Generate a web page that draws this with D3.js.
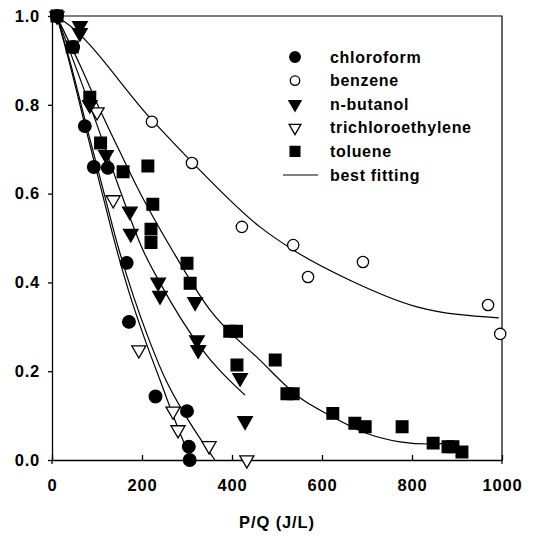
<!DOCTYPE html>
<html>
<head>
<meta charset="utf-8">
<script src="https://cdn.jsdelivr.net/npm/d3@7"></script>
<style>
  body { margin: 0; background: #fff; }
  svg text { font-family: "Liberation Sans", Arial, sans-serif; font-weight: bold; fill: #000; }
</style>
</head>
<body>
<div id="chart"></div>
<script>
// measured points, [P/Q, fraction remaining]
const chloroform = [[11, 1.0], [47, 0.93], [73, 0.752], [93, 0.66], [124, 0.658], [166, 0.444],
  [171, 0.311], [230, 0.143], [300, 0.11], [304, 0.03], [306, 0.0]];
const benzene = [[11, 1.0], [222, 0.762], [311, 0.669], [422, 0.525], [536, 0.484], [569, 0.412],
  [691, 0.446], [969, 0.349], [996, 0.284]];
const nButanol = [[62, 0.978], [62, 0.962], [84, 0.8], [120, 0.687], [173, 0.56], [175, 0.51],
  [236, 0.4], [240, 0.37], [318, 0.356], [322, 0.27], [325, 0.248], [418, 0.185], [429, 0.088]];
const trichloroethylene = [[11, 1.0], [100, 0.784], [136, 0.586], [193, 0.248], [269, 0.11],
  [280, 0.068], [349, 0.032], [433, 0.0]];
const toluene = [[11, 1.0], [45, 0.93], [84, 0.817], [108, 0.714], [158, 0.649], [213, 0.662],
  [224, 0.576], [220, 0.52], [220, 0.49], [300, 0.443], [307, 0.398], [395, 0.29], [410, 0.29],
  [411, 0.214], [496, 0.225], [522, 0.149], [536, 0.149], [624, 0.105], [673, 0.083], [696, 0.075],
  [778, 0.075], [847, 0.038], [880, 0.03], [891, 0.03], [911, 0.018]];

// best fitting curves
const fitChloroform = [[11, 0.998], [40, 0.89], [73, 0.755], [107, 0.619], [144, 0.473], [173, 0.372],
  [207, 0.27], [240, 0.18], [273, 0.09], [307, 0.005]];
const fitTrichloroethylene = [[11, 0.998], [42, 0.89], [76, 0.755], [111, 0.619], [149, 0.473],
  [180, 0.372], [216, 0.27], [253, 0.18], [296, 0.101], [336, 0.038], [362, 0.0]];
const fitButanol = [[11, 0.998], [51, 0.89], [96, 0.766], [151, 0.608], [202, 0.473], [240, 0.399],
  [329, 0.255], [429, 0.146]];
const fitToluene = [[11, 0.998], [62, 0.89], [107, 0.788], [151, 0.694], [189, 0.615], [267, 0.473],
  [351, 0.338], [462, 0.225], [551, 0.14], [624, 0.097], [691, 0.063], [773, 0.041], [840, 0.036],
  [902, 0.041]];
const fitBenzene = [[8, 1.0], [24, 0.99], [222, 0.766], [311, 0.671], [462, 0.525], [536, 0.473],
  [662, 0.405], [811, 0.345], [993, 0.32]];

const xTicks = [0, 200, 400, 600, 800, 1000];
const yTicks = [0.0, 0.2, 0.4, 0.6, 0.8, 1.0];
const legendNames = ['chloroform', 'benzene', 'n-butanol', 'trichloroethylene', 'toluene', 'best fitting'];

let margin = {top: 16, right: 32, bottom: 78, left: 52};
var totalW = 534;
var totalH = 538;
var W = totalW - margin.left - margin.right;
var H = totalH - margin.top - margin.bottom;

let svg = d3.select('#chart').append('svg')
  .attr('width', totalW)
  .attr('height', totalH)
  .append('g')
    .attr('transform', 'translate(' + margin.left + ' ' + margin.top + ')');

let xscale = d3.scaleLinear().domain([0, 1000]).range([0, W]);
let yscale = d3.scaleLinear().domain([0, 1]).range([H, 0]);

// frame (top and right)
svg.append('path')
  .attr('d', 'M0,0H' + W + 'V' + (H + 4))
  .attr('fill', 'none')
  .attr('stroke', '#000')
  .attr('stroke-width', 1.2);

let yaxis = svg.append('g')
  .call(d3.axisLeft(yscale).tickValues(yTicks).tickFormat(d3.format('.1f'))
    .tickSize(4).tickSizeOuter(0).tickPadding(8));
let xaxis = svg.append('g')
  .attr('transform', 'translate(0 ' + H + ')')
  .call(d3.axisBottom(xscale).tickValues(xTicks).tickFormat(d3.format('d'))
    .tickSize(-5).tickSizeOuter(0).tickPadding(19));
// left axis runs a little below zero, as in the print
svg.append('line')
  .attr('x1', 0).attr('x2', 0)
  .attr('y1', H).attr('y2', H + 4)
  .attr('stroke', '#000')
  .attr('stroke-width', 1.3);
svg.selectAll('.domain, .tick line').attr('stroke-width', 1.3);
svg.selectAll('.tick text')
  .attr('font-size', '16.5px')
  .attr('font-family', null)
  .style('letter-spacing', '0.8px');

svg.append('text')
  .text('P/Q (J/L)')
  .attr('font-size', '16.5px')
  .style('letter-spacing', '0.9px')
  .attr('text-anchor', 'middle')
  .attr('x', W / 2)
  .attr('y', H + 68);

// fitted curves
let line = d3.line()
  .x(d => xscale(d[0]))
  .y(d => yscale(d[1]))
  .curve(d3.curveMonotoneX);
for (let f of [fitChloroform, fitTrichloroethylene, fitButanol, fitToluene, fitBenzene]) {
  svg.append('path')
    .attr('d', line(f))
    .attr('fill', 'none')
    .attr('stroke', '#000')
    .attr('stroke-width', 1.2);
}

// marker styles
let styles = [
  {data: chloroform, type: d3.symbolCircle, size: 125, fill: '#000', rot: 0},
  {data: benzene, type: d3.symbolCircle, size: 100, fill: '#fff', rot: 0},
  {data: nButanol, type: d3.symbolTriangle, size: 92, fill: '#000', rot: 180},
  {data: trichloroethylene, type: d3.symbolTriangle, size: 86, fill: '#fff', rot: 180},
  {data: toluene, type: d3.symbolSquare, size: 136, fill: '#000', rot: 0}
];

function drawMarks(g, s, pts) {
  g.selectAll(null)
    .data(pts)
    .enter().append('path')
      .attr('d', d3.symbol().type(s.type).size(s.size))
      .attr('transform', d => 'translate(' + d[0] + ' ' + d[1] + ') rotate(' + s.rot + ')')
      .attr('fill', s.fill)
      .attr('stroke', '#000')
      .attr('stroke-width', 1.3);
}

let drawOrder = [1, 3, 4, 2, 0];
for (let i of drawOrder) {
  let s = styles[i];
  drawMarks(svg.append('g'), s, s.data.map(d => [xscale(d[0]), yscale(d[1])]));
}

// legend
let legend = svg.append('g').attr('transform', 'translate(243 41)');
let rowH = 23.6;
legendNames.forEach((name, i) => {
  let y = i * rowH;
  if (i < styles.length) {
    let s = Object.assign({}, styles[i], {size: styles[i].size * 0.7});
    drawMarks(legend, s, [[0, y]]);
  } else {
    legend.append('line')
      .attr('x1', -12).attr('x2', 23)
      .attr('y1', y).attr('y2', y)
      .attr('stroke', '#000')
      .attr('stroke-width', 1.2);
  }
  legend.append('text')
    .text(name)
    .attr('font-size', '16px')
    .style('letter-spacing', '0.7px')
    .attr('x', 35)
    .attr('y', y + 5.5);
});
</script>
</body>
</html>
